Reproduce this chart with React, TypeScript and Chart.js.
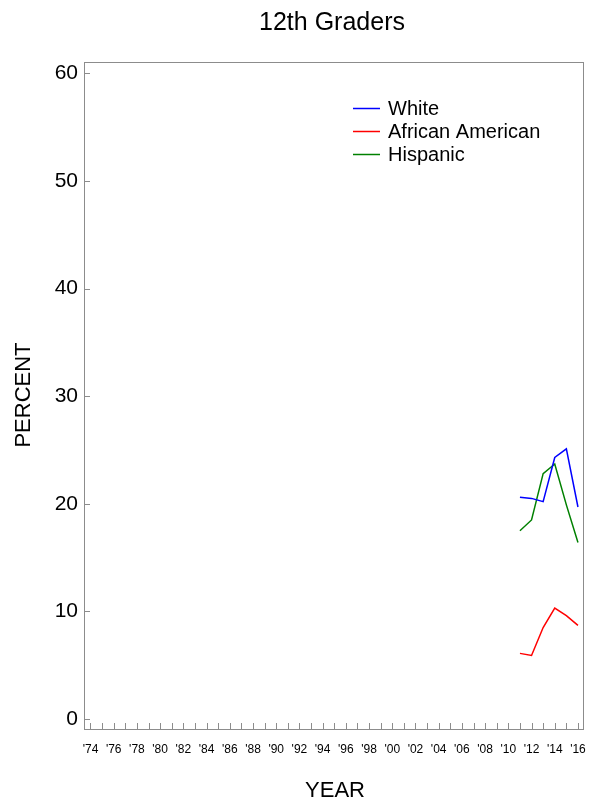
import React, { useEffect, useRef } from "react";
import { Chart, registerables } from "chart.js";

Chart.register(...registerables);

const TITLE = "12th Graders";
const X_TITLE = "YEAR";
const Y_TITLE = "PERCENT";

const years = [2011, 2012, 2013, 2014, 2015, 2016];
const white = [20.6, 20.5, 20.2, 24.3, 25.1, 19.7];
const africanAmerican = [6.1, 5.9, 8.5, 10.3, 9.6, 8.7];
const hispanic = [17.5, 18.5, 22.8, 23.7, 19.9, 16.4];

const seriesNames = ["White", "African American", "Hispanic"];
const seriesColors = ["#0000ff", "#ff0000", "#008000"];

const xTickYears: number[] = [];
for (let y = 1974; y <= 2016; y++) xTickYears.push(y);
const yTickValues = [0, 10, 20, 30, 40, 50, 60];

const FONT = "'Liberation Sans', Arial, Helvetica, sans-serif";

const decorPlugin = {
  id: "decor",
  afterDatasetsDraw(chart: any) {
    const { ctx, chartArea } = chart;
    const { left, right, top, bottom } = chartArea;
    const xs = chart.scales.x;
    const ys = chart.scales.y;
    ctx.save();
    // frame
    ctx.strokeStyle = "#8c8c8c";
    ctx.lineWidth = 1;
    ctx.strokeRect(Math.round(left) + 0.5, Math.round(top) + 0.5, Math.round(right - left) - 1, Math.round(bottom - top) - 1);
    // x ticks inside, pointing up
    ctx.beginPath();
    xTickYears.forEach((v) => {
      const px = Math.round(xs.getPixelForValue(v)) + 0.5;
      ctx.moveTo(px, bottom - 1);
      ctx.lineTo(px, bottom - 7);
    });
    // y ticks inside, pointing right
    yTickValues.forEach((v) => {
      const py = Math.round(ys.getPixelForValue(v)) + 0.5;
      ctx.moveTo(left, py);
      ctx.lineTo(left + 6, py);
    });
    ctx.stroke();

    ctx.fillStyle = "#000";
    ctx.textAlign = "center";
    ctx.textBaseline = "middle";
    // title
    ctx.font = `25px ${FONT}`;
    ctx.fillText(TITLE, 332, 23);
    // x title
    ctx.font = `22px ${FONT}`;
    ctx.fillText(X_TITLE, 335, 791);
    // y title
    ctx.save();
    ctx.translate(24, (top + bottom) / 2 - 1);
    ctx.rotate(-Math.PI / 2);
    ctx.fillText(Y_TITLE, 0, 0);
    ctx.restore();

    // legend
    ctx.font = `20px ${FONT}`;
    ctx.textAlign = "left";
    chart.data.datasets.forEach((ds: any, i: number) => {
      const ly = 108.5 + i * 23;
      ctx.strokeStyle = ds.borderColor;
      ctx.lineWidth = 1.5;
      ctx.beginPath();
      ctx.moveTo(353, ly);
      ctx.lineTo(380, ly);
      ctx.stroke();
      ctx.fillStyle = "#000";
      ctx.fillText(ds.label, 388, ly + 1);
    });
    ctx.restore();
  },
};

export default function App() {
  const ref = useRef<HTMLCanvasElement>(null);
  useEffect(() => {
    document.body.style.margin = "0";
    const seriesValues = [white, africanAmerican, hispanic];
    const chart = new Chart(ref.current as HTMLCanvasElement, {
      type: "line",
      data: {
        datasets: seriesValues.map((vals, i) => ({
          label: seriesNames[i],
          data: years.map((yr, j) => ({ x: yr, y: vals[j] })),
          borderColor: seriesColors[i],
          backgroundColor: seriesColors[i],
          borderWidth: 1.5,
          pointRadius: 0,
          tension: 0,
          fill: false,
        })),
      },
      options: {
        responsive: false,
        animation: false,
        layout: { padding: { top: 62, right: 6, left: 0, bottom: 0 } },
        plugins: {
          legend: { display: false },
          title: { display: false },
          tooltip: { enabled: false },
        },
        scales: {
          x: {
            type: "linear",
            min: 1973.44,
            max: 2016.52,
            afterBuildTicks: (scale: any) => {
              scale.ticks = xTickYears.map((v) => ({ value: v }));
            },
            afterFit: (scale: any) => {
              scale.height = 73;
              scale.paddingLeft = 0;
              scale.paddingRight = 0;
            },
            grid: { display: false, drawTicks: false },
            border: { display: false },
            ticks: {
              autoSkip: false,
              maxRotation: 0,
              minRotation: 0,
              padding: 12,
              color: "#000",
              font: { family: FONT, size: 12 },
              callback: (v: any) => (Number(v) % 2 === 0 ? "'" + String(v).slice(2) : ""),
            },
          },
          y: {
            type: "linear",
            min: -1.02,
            max: 61.05,
            afterBuildTicks: (scale: any) => {
              scale.ticks = yTickValues.map((v) => ({ value: v }));
            },
            afterFit: (scale: any) => {
              scale.width = 84;
              scale.paddingTop = 0;
              scale.paddingBottom = 0;
            },
            grid: { display: false, drawTicks: false },
            border: { display: false },
            ticks: {
              padding: 6,
              color: "#000",
              font: { family: FONT, size: 21 },
              callback: (v: any) => String(v),
            },
          },
        },
      },
      plugins: [decorPlugin],
    });
    return () => chart.destroy();
  }, []);
  return (
    <div style={{ position: "absolute", left: 0, top: 0, width: 590, height: 803, background: "#fff" }}>
      <canvas ref={ref} width={590} height={803} style={{ display: "block" }} />
    </div>
  );
}
